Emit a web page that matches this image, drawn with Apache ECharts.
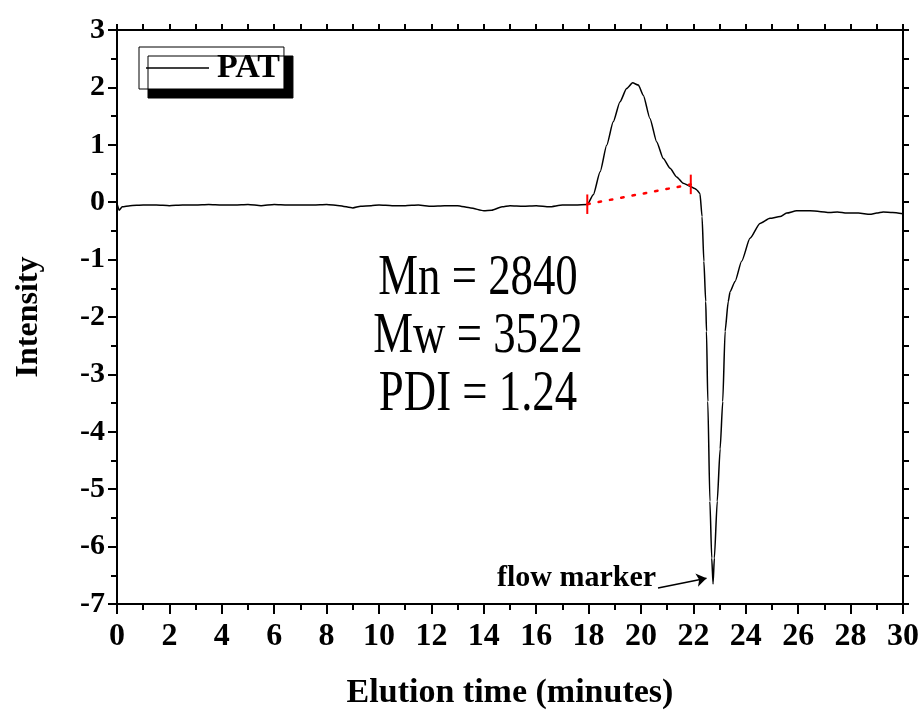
<!DOCTYPE html>
<html>
<head>
<meta charset="utf-8">
<script src="https://cdn.jsdelivr.net/npm/echarts@6/dist/echarts.min.js"></script>
<style>
html,body{margin:0;padding:0;background:#fff;}
#chart{width:924px;height:715px;}
</style>
</head>
<body>
<div id="chart"></div>
<script>
// Elution time (minutes)
const times = [0.0,0.08,0.2,0.5,1.0,1.5,2.0,2.5,3.0,3.5,4.0,4.5,5.0,5.5,6.0,6.5,7.0,7.5,8.0,8.5,9.0,9.3,9.7,10.0,10.5,11.0,11.5,12.0,12.5,13.0,13.5,14.0,14.3,14.7,15.0,15.5,16.0,16.5,17.0,17.5,17.95,
  18.18,18.44,18.69,18.94,19.2,19.45,19.68,19.9,20.09,20.34,20.6,20.85,21.11,21.36,21.61,21.87,22.05,22.14,22.25,22.33,22.40,22.47,22.50,22.55,22.63,22.70,22.75,22.80,22.91,23.02,23.12,23.21,23.33,23.40,23.59,23.84,24.16,24.54,24.92,25.31,25.56,25.94,26.45,26.8,27.2,27.5,27.85,28.3,28.74,29.0,29.24,29.6,30.0];
// Intensity
const intensity = [-0.02,-0.14,-0.08,-0.06,-0.05,-0.05,-0.06,-0.05,-0.05,-0.04,-0.05,-0.05,-0.04,-0.06,-0.04,-0.05,-0.05,-0.05,-0.04,-0.06,-0.10,-0.07,-0.06,-0.05,-0.06,-0.06,-0.05,-0.07,-0.06,-0.06,-0.10,-0.15,-0.14,-0.08,-0.06,-0.07,-0.06,-0.08,-0.05,-0.05,-0.04,
  0.13,0.53,0.99,1.40,1.75,1.98,2.08,2.04,1.86,1.46,1.05,0.76,0.59,0.44,0.33,0.28,0.24,0.21,0.15,-0.25,-1.03,-1.73,-2.25,-3.47,-5.21,-6.2,-6.65,-6.2,-5.21,-4.3,-3.47,-2.25,-1.73,-1.56,-1.38,-1.03,-0.63,-0.37,-0.28,-0.25,-0.19,-0.15,-0.15,-0.16,-0.18,-0.17,-0.19,-0.19,-0.21,-0.19,-0.17,-0.18,-0.2];
// Integration limits (start, end) and their intensities
const limitTimes = [17.95, 21.9];
const limitValues = [-0.035, 0.31];
const limitHalfHeight = 0.17;
const xTicks = {min: 0, max: 30, interval: 2};
const yTicks = {min: -7, max: 3, interval: 1};
const statsLines = ['Mn = 2840', 'Mw = 3522', 'PDI = 1.24'];
const annotation = {text: 'flow marker', arrowFrom: [20.65, -6.72], arrowTo: [22.5, -6.55]};
const seriesName = 'PAT';

const serif = "'Liberation Serif','Times New Roman',serif";
const chart = echarts.init(document.getElementById('chart'), null, {renderer: 'canvas'});

const mainData = times.map((t, i) => [t, intensity[i]]);

const axisLine = {show: true, onZero: false, lineStyle: {color: '#000', width: 2}};
const xCommon = {type: 'value', min: xTicks.min, max: xTicks.max, interval: xTicks.interval,
  axisLine: axisLine, splitLine: {show: false},
  axisTick: {show: true, inside: false, length: 10, lineStyle: {color: '#000', width: 2}},
  minorTick: {show: true, splitNumber: 2, length: 6, lineStyle: {color: '#000', width: 2}}};
const yCommon = {type: 'value', min: yTicks.min, max: yTicks.max, interval: yTicks.interval,
  axisLine: axisLine, splitLine: {show: false},
  axisTick: {show: true, inside: false, length: 9, lineStyle: {color: '#000', width: 2}},
  minorTick: {show: true, splitNumber: 2, length: 6, lineStyle: {color: '#000', width: 2}}};

const option = {
  backgroundColor: '#fff',
  animation: false,
  grid: {left: 117, right: 21, top: 30, bottom: 110},
  legend: {
    data: [{name: seriesName, icon: 'rect'}],
    left: 139, top: 47,
    orient: 'horizontal',
    backgroundColor: '#fff',
    borderColor: '#000', borderWidth: 1,
    shadowColor: '#000', shadowBlur: 0, shadowOffsetX: 9, shadowOffsetY: 9,
    padding: [4, 4, 4, 7],
    itemWidth: 63, itemHeight: 1.3, itemGap: 0,
    itemStyle: {color: '#000'},
    textStyle: {fontFamily: serif, fontWeight: 'bold', fontSize: 34, color: '#000', padding: [4, 0, 0, 3]}
  },
  xAxis: [
    Object.assign({}, xCommon, {position: 'bottom',
      name: 'Elution time (minutes)', nameLocation: 'middle', nameGap: 72,
      nameTextStyle: {fontFamily: serif, fontWeight: 'bold', fontSize: 34, color: '#000'},
      axisLabel: {show: true, margin: 17, fontFamily: serif, fontWeight: 'bold', fontSize: 32, color: '#000'}}),
    Object.assign({}, xCommon, {position: 'top', axisLabel: {show: false},
      axisTick: {show: true, inside: false, length: 6, lineStyle: {color: '#000', width: 2}},
      minorTick: {show: true, splitNumber: 2, length: 6, lineStyle: {color: '#000', width: 2}}})
  ],
  yAxis: [
    Object.assign({}, yCommon, {position: 'left',
      name: 'Intensity', nameLocation: 'middle', nameGap: 72, nameRotate: 90,
      nameTextStyle: {fontFamily: serif, fontWeight: 'bold', fontSize: 32, color: '#000'},
      axisLabel: {show: true, margin: 12, fontFamily: serif, fontWeight: 'bold', fontSize: 30, color: '#000'}}),
    Object.assign({}, yCommon, {position: 'right', axisLabel: {show: false},
      axisTick: {show: true, inside: false, length: 6, lineStyle: {color: '#000', width: 2}}})
  ],
  series: [
    {
      name: seriesName, type: 'line', data: mainData, xAxisIndex: 0, yAxisIndex: 0,
      symbol: 'none', smooth: 0.2, smoothMonotone: 'x',
      lineStyle: {color: '#000', width: 1.5}, itemStyle: {color: '#000'},
      markLine: {
        silent: true, symbol: ['none', 'arrow'], symbolSize: 10,
        lineStyle: {color: '#000', width: 1.5, type: 'solid'},
        label: {show: false},
        data: [[{coord: annotation.arrowFrom}, {coord: annotation.arrowTo}]]
      }
    },
    {
      name: 'baseline', type: 'line', symbol: 'none',
      data: [[limitTimes[0], limitValues[0]], [limitTimes[1], limitValues[1]]],
      lineStyle: {color: '#ff0000', width: 2.5, type: [2.5, 9], cap: 'round'}
    },
    {
      name: 'limit1', type: 'line', symbol: 'none',
      data: [[limitTimes[0], limitValues[0] - limitHalfHeight], [limitTimes[0], limitValues[0] + limitHalfHeight]],
      lineStyle: {color: '#ff0000', width: 2}
    },
    {
      name: 'limit2', type: 'line', symbol: 'none',
      data: [[limitTimes[1], limitValues[1] - limitHalfHeight], [limitTimes[1], limitValues[1] + limitHalfHeight]],
      lineStyle: {color: '#ff0000', width: 2}
    }
  ]
};
chart.setOption(option);

// annotation texts positioned in data coordinates
const p0 = chart.convertToPixel({gridIndex: 0}, annotation.arrowFrom);
const statsGraphics = statsLines.map((s, i) => ({
  type: 'text',
  x: 478, y: 307 + i * 58,
  scaleX: 0.8,
  style: {text: s, fontFamily: serif, fontSize: 56, fill: '#000', align: 'center', verticalAlign: 'bottom'}
}));
chart.setOption({
  graphic: statsGraphics.concat([{
    type: 'text', x: p0[0] - 2, y: p0[1] + 5,
    style: {text: annotation.text, fontFamily: serif, fontWeight: 'bold', fontSize: 30, fill: '#000', align: 'right', verticalAlign: 'bottom'}
  }])
});
</script>
</body>
</html>
